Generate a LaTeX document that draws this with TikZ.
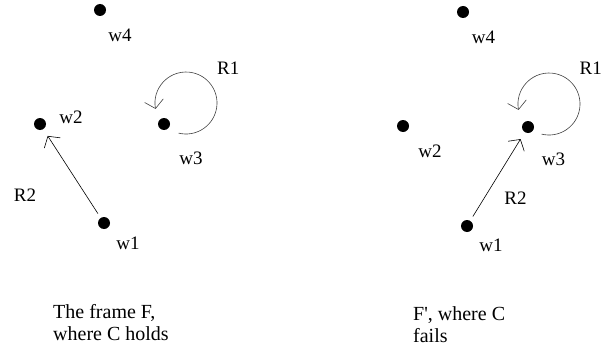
\documentclass[tikz,border=0pt]{standalone}
\usepackage{fontspec}
\setmainfont{Liberation Serif}
\usetikzlibrary{arrows.meta}
\usetikzlibrary{calc, math}

\begin{document}
\begin{tikzpicture}[x=1pt,y=1pt,
  world/.style={circle,fill,inner sep=0pt,minimum size=12pt},
  wlabel/.style={inner sep=0pt,font=\fontsize{19}{23}\selectfont},
  caption/.style={inner sep=0pt,align=left,anchor=north west,font=\fontsize{20}{22.7}\selectfont},
  rel/.style={-{Straight Barb[length=8pt,width=19pt]},line width=0.6pt,shorten <=5pt,shorten >=8pt},
  loop/.style={-{Straight Barb[length=8pt,width=19pt]},line width=0.6pt,color=black!75}]
\tikzmath{
\r=31;
}
\useasboundingbox (0,0) rectangle (601,354);

% frame F
\node[world] (aw4) at (100,344) {};
\node[world] (aw2) at (40,230) {};
\node[world] (aw3) at (164,230) {};
\node[world] (aw1) at (104,131) {};
\node[wlabel] (aw4t) at (120,319) {w4};
\node[wlabel] (aw2t) at (71,237) {w2};
\node[wlabel] (aw3t) at (191,196) {w3};
\node[wlabel] (aw1t) at (128,111) {w1};

\draw[rel] (aw1) -- (aw2);
\node[wlabel] (aR2) at (25,159) {R2};

\coordinate (ac) at ($ (aw3)+(22,21) $);
\draw[loop] (ac) ++(-104:\r) arc[start angle=-104,end angle=191,radius=\r];
\node[wlabel,anchor=west] (aR1) at (217,286) {R1};

\node[caption] (acap) at (53,50) {The frame F,\\where C holds};

% frame F'
\begin{scope}[shift={(363,-2)}]
\node[world] (bw4) at (100,344) {};
\node[world] (bw2) at (40,230) {};
\node[world] (bw3) at (165,229) {};
\node[world] (bw1) at (104,130) {};
\node[wlabel] (bw4t) at (120.5,318.5) {w4};
\node[wlabel] (bw2t) at (67,205) {w2};
\node[wlabel] (bw3t) at (190.5,197) {w3};
\node[wlabel] (bw1t) at (128,111) {w1};

\draw[rel] (bw1) -- (bw3);
\node[wlabel] (bR2) at (152.5,157.5) {R2};

\coordinate (bc) at ($ (bw3)+(21,23) $);
\draw[loop] (bc) ++(-104:\r) arc[start angle=-104,end angle=191,radius=\r];
\node[wlabel,anchor=west] (bR1) at (216.5,288) {R1};

\node[caption] (bcap) at (50,50) {F\textquotesingle, where C\\fails};
\end{scope}

\end{tikzpicture}
\end{document}
